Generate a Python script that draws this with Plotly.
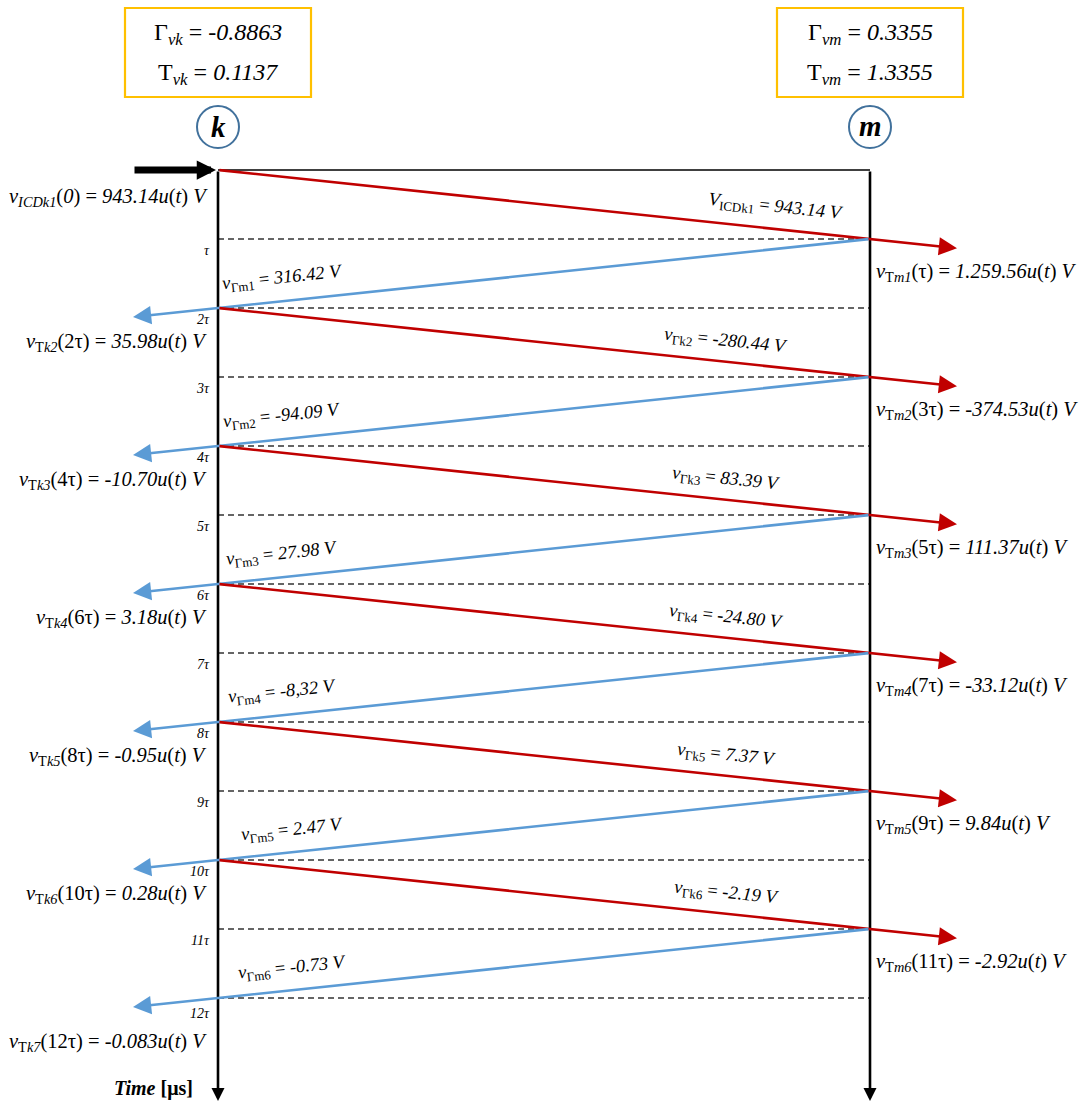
import plotly.graph_objects as go

# ---- line parameters -------------------------------------------------------
gamma_vk = "-0.8863"
trans_vk = "0.1137"
gamma_vm = "0.3355"
trans_vm = "1.3355"

# time grid (multiples of tau)
tau_steps = [1, 2, 3, 4, 5, 6, 7, 8, 9, 10, 11, 12]
tau_labels = ["τ", "2τ", "3τ", "4τ", "5τ", "6τ", "7τ", "8τ", "9τ", "10τ", "11τ", "12τ"]

# initial surge injected at node k
v_init_value = "943.14"

# forward waves k -> m (red)
fwd_names = ["ICDk1", "Γk2", "Γk3", "Γk4", "Γk5", "Γk6"]
fwd_values = ["943.14", "-280.44", "83.39", "-24.80", "7.37", "-2.19"]

# reflected waves m -> k (blue)
back_names = ["Γm1", "Γm2", "Γm3", "Γm4", "Γm5", "Γm6"]
back_values = ["316.42", "-94.09", "27.98", "-8,32", "2.47", "-0.73"]

# voltages transmitted at node m
tm_names = ["m1", "m2", "m3", "m4", "m5", "m6"]
tm_times = ["τ", "3τ", "5τ", "7τ", "9τ", "11τ"]
tm_values = ["1.259.56", "-374.53", "111.37", "-33.12", "9.84", "-2.92"]

# voltages transmitted at node k
tk_names = ["k2", "k3", "k4", "k5", "k6", "k7"]
tk_times = ["2τ", "4τ", "6τ", "8τ", "10τ", "12τ"]
tk_values = ["35.98", "-10.70", "3.18", "-0.95", "0.28", "-0.083"]

# ---- canvas geometry --------------------------------------------------------
W, H = 1083, 1102
XK, XM = 218, 870          # pixel columns of nodes k and m
Y0, TAU = 170, 69          # pixel row of t=0 and pixels per tau
SPAN = XM - XK

X_RANGE = [-XK / SPAN, (W - XK) / SPAN]
Y_RANGE = [(H - Y0) / TAU, -Y0 / TAU]


def dx(px):
    return (px - XK) / SPAN


def dy(py):
    return (py - Y0) / TAU


FONT = "Liberation Serif"
RED = "#C00000"
BLUE = "#5B9BD5"
ORANGE = "#FFC000"
CIRCLE = "#41719C"

fig = go.Figure()

# dashed time grid
gx, gy = [], []
for s in tau_steps:
    gx += [0, 1, None]
    gy += [s, s, None]
fig.add_trace(go.Scatter(x=gx, y=gy, mode="lines",
                         line=dict(color="#333333", width=1.3, dash="6px,4px"),
                         hoverinfo="skip", showlegend=False))
# top solid line
fig.add_trace(go.Scatter(x=[0, 1], y=[0, 0], mode="lines",
                         line=dict(color="black", width=1.5),
                         hoverinfo="skip", showlegend=False))

annotations = []


def arrow(x0, y0, x1, y1, color, width, size, head=2):
    annotations.append(dict(x=x1, y=y1, ax=x0, ay=y0, xref="x", yref="y",
                            axref="x", ayref="y", text="", showarrow=True,
                            arrowhead=head, arrowsize=size, arrowwidth=width,
                            arrowcolor=color, standoff=0, startstandoff=0))


def label(x, y, text, size=18, xanchor="center", angle=0, color="black"):
    annotations.append(dict(x=x, y=y, xref="x", yref="y", text=text,
                            showarrow=False, xanchor=xanchor, yanchor="middle",
                            textangle=angle,
                            font=dict(family=FONT, size=size, color=color)))


# node time axes
t_end = dy(1101)
arrow(0, 0, 0, t_end, "black", 2.6, 1.0)
arrow(1, 0, 1, t_end, "black", 2.6, 1.0)

# injected surge arrow
arrow(dx(133), 0, dx(216), 0, "black", 7, 0.55)

ext_r = dx(957) - 1
ext_l = -dx(133)

# travelling waves
for i in range(6):
    t0 = 2 * i
    # forward wave k -> m
    arrow(0, t0, 1 + ext_r, t0 + 1 + ext_r, RED, 2.6, 1.4)
    # reflected wave m -> k
    arrow(1, t0 + 1, -ext_l, t0 + 2 + ext_l, BLUE, 2.6, 1.4)

    v = "V" if i == 0 else "v"
    if i == 0:
        lx, ly = dx(776), 0.54
    else:
        lx, ly = dx(726), t0 + 0.48
    label(lx, ly, f"<i>{v}</i><sub>{fwd_names[i]}</sub> = <i>{fwd_values[i]} V</i>",
          size=18.5, angle=6)

    bx = dx(282) if i < 4 else dx(292)
    label(bx, t0 + 1.57, f"<i>v</i><sub>{back_names[i]}</sub> = <i>{back_values[i]} V</i>",
          size=18.5, angle=-6)

    label(dx(874), t0 + 1 + 0.48,
          f"<i>v</i><sub>T<i>{tm_names[i]}</i></sub>({tm_times[i]}) = <i>{tm_values[i]}u</i>(<i>t</i>) <i>V</i>",
          size=20.5, xanchor="left")

    off = 0.5 if i < 5 else 0.64
    label(dx(209), t0 + 2 + off,
          f"<i>v</i><sub>T<i>{tk_names[i]}</i></sub>({tk_times[i]}) = <i>{tk_values[i]}u</i>(<i>t</i>) <i>V</i>",
          size=20.5, xanchor="right")

# initial voltage at k
label(dx(210), 0.4,
      f"<i>v</i><sub><i>ICDk1</i></sub>(<i>0</i>) = <i>{v_init_value}u</i>(<i>t</i>) <i>V</i>",
      size=20.5, xanchor="right")

# tau tick labels
for s, txt in zip(tau_steps, tau_labels):
    off = 0.16 if s < 12 else 0.22
    label(dx(212), s + off, f"<i>{txt}</i>", size=14, xanchor="right")

# time axis caption
label(dx(195), dy(1088), "<b><i>Time</i> [μs]</b>", size=20, xanchor="right")

# coefficient boxes and node markers
shapes = []
for cx, g, t, sub in [(XK, gamma_vk, trans_vk, "vk"), (XM, gamma_vm, trans_vm, "vm")]:
    shapes.append(dict(type="rect", xref="x", yref="y",
                       x0=dx(cx - 93), x1=dx(cx + 93), y0=dy(8), y1=dy(97),
                       line=dict(color=ORANGE, width=2.2), fillcolor="white"))
    label(dx(cx), dy(34), f"Γ<sub><i>{sub}</i></sub> = <i>{g}</i>", size=24)
    label(dx(cx), dy(74), f"T<sub><i>{sub}</i></sub> = <i>{t}</i>", size=24)
    shapes.append(dict(type="circle", xref="x", yref="y",
                       x0=dx(cx - 21), x1=dx(cx + 21), y0=dy(106), y1=dy(148),
                       line=dict(color=CIRCLE, width=2), fillcolor="white"))
label(dx(XK), dy(127), "<b><i>k</i></b>", size=29)
label(dx(XM), dy(126), "<b><i>m</i></b>", size=29)

fig.update_layout(
    width=W, height=H,
    margin=dict(l=0, r=0, t=0, b=0),
    paper_bgcolor="white", plot_bgcolor="white",
    xaxis=dict(range=X_RANGE, visible=False, fixedrange=True),
    yaxis=dict(range=Y_RANGE, visible=False, fixedrange=True),
    shapes=shapes,
    annotations=annotations,
    showlegend=False,
)

fig.write_html("out.html")
